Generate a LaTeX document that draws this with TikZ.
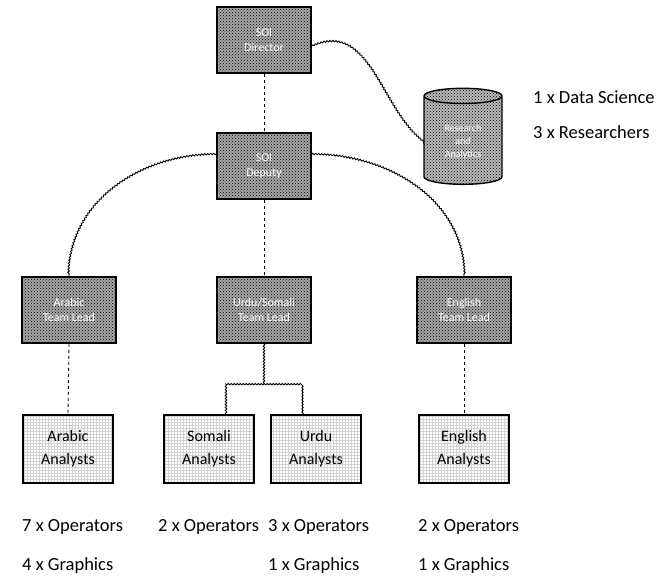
\documentclass[tikz,border=0pt]{standalone}
\usepackage{fontspec}
\setmainfont{Carlito}
\usetikzlibrary{shapes.geometric,patterns,decorations.pathmorphing}

\tikzset{
  hatchbox/.style={draw=black, line width=1.6pt, fill=gray!70,
    postaction={pattern=crosshatch dots, pattern color=black},
    minimum width=94pt, minimum height=66pt, align=center,
    text=white, font=\fontsize{12}{15}\selectfont},
  gridbox/.style={draw=black, line width=1.2pt, pattern=grid, pattern color=gray!35,
    minimum width=90pt, minimum height=68pt, align=center,
    font=\fontsize{16}{23}\selectfont},
  wavy/.style={decorate, decoration={snake, amplitude=0.7pt, segment length=3pt}, line width=0.9pt},
  dashline/.style={dashed, line width=0.9pt},
  staff/.style={anchor=west, font=\fontsize{18.5}{20}\selectfont, inner sep=0pt}
}

\begin{document}
\begin{tikzpicture}[x=1pt, y=-1pt]
\useasboundingbox (0,0) rectangle (668,584);
% management
\node [hatchbox] (dir) at (264,40) {SOI\\Director};
\node [hatchbox] (dep) at (264,166) {SOI\\Deputy};
\node [cylinder, shape border rotate=90, aspect=0.35, draw=black, line width=1.4pt,
  fill=gray!55, postaction={pattern=crosshatch dots, pattern color=black},
  minimum width=78pt, minimum height=96pt, align=center, text=white,
  font=\fontsize{10}{13}\selectfont] (ra) at (463,142) {Research\\and\\Analytics};
\node [staff] (rtxt1) at (533,97) {1 x Data Science};
\node [staff] (rtxt2) at (533,132) {3 x Researchers};
% team leads
\node [hatchbox] (ar) at (69,310) {Arabic\\Team Lead};
\node [hatchbox] (us) at (264,310) {Urdu/Somali\\Team Lead};
\node [hatchbox] (en) at (464,310) {English\\Team Lead};
% analysts
\node [gridbox] (ara) at (68,449) {Arabic\\Analysts};
\node [gridbox] (soa) at (209,449) {Somali\\Analysts};
\node [gridbox] (ura) at (316,449) {Urdu\\Analysts};
\node [gridbox] (ena) at (464,449) {English\\Analysts};
% staff counts
\node [staff] (t1) at (22,527) {7 x Operators};
\node [staff] (t2) at (22,566) {4 x Graphics};
\node [staff] (t3) at (158,527) {2 x Operators};
\node [staff] (t4) at (268,527) {3 x Operators};
\node [staff] (t5) at (268,566) {1 x Graphics};
\node [staff] (t6) at (418,527) {2 x Operators};
\node [staff] (t7) at (418,566) {1 x Graphics};
% connectors
\draw [dashline] (dir.south) -- (dep.north);
\draw [wavy] ([yshift=-6pt]dir.east) .. controls (370,20) and (380,110) .. (ra.west);
\draw [wavy] ([yshift=12pt]dep.west) to[out=180, in=90] (ar.north);
\draw [wavy] ([yshift=12pt]dep.east) to[out=0, in=90] (en.north);
\draw [dashline] (dep.south) -- (us.north);
\draw [dashline] (ar.south) -- (ara.north);
\draw [dashline] (en.south) -- (ena.north);
\coordinate (br) at (264,384);
\draw [wavy] (us.south) -- (br);
\draw [wavy] (soa.north -| 226,0) |- (br) -| (ura.north -| 303,0);
\end{tikzpicture}
\end{document}
